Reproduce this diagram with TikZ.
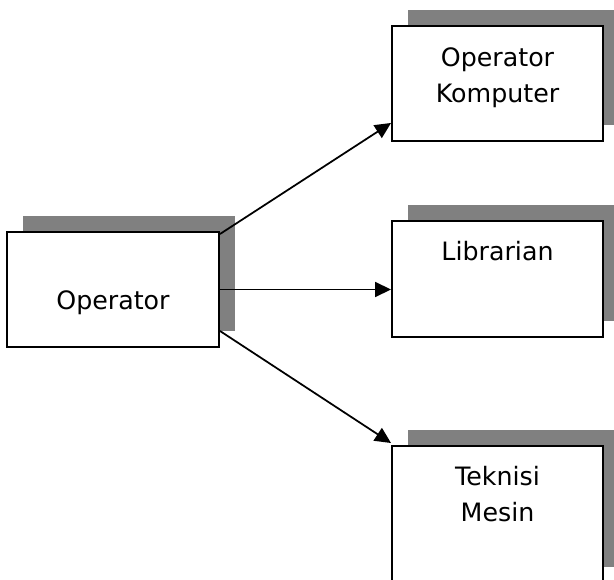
\documentclass[tikz,border=0pt]{standalone}
\usepackage{fontspec}
\setmainfont{DejaVu Sans}
\usepackage{tikz}
\usetikzlibrary{positioning,arrows.meta,shadows}
\definecolor{colorshade}{RGB}{128,128,128}
\definecolor{colortext} {RGB}{0,0,0}

\begin{document}
\begin{tikzpicture}[
    font={\fontsize{14.4}{20.5}\selectfont},
    jobbox/.style={draw, line width=1.1pt, fill=white,
        minimum width=4.22cm, minimum height=2.3cm, inner sep=0pt,
        general shadow={fill=colorshade, shadow xshift=.32cm, shadow yshift=.32cm}},
    jobname/.style={text=colortext, align=center, inner sep=0pt},
    link/.style={line width=1pt, -{Triangle[length=.32cm,width=.3cm]}},
]

    \useasboundingbox (0,0) rectangle (12.28,11.58);
    \clip (0,0) rectangle (12.28,11.58);

    % the boxes
    \node[jobbox,minimum width=4.24cm] (op) at (2.26,5.79) {};
    \node[jobbox] (komp) at (9.95,9.91) {};
    \node[jobbox,minimum height=2.32cm] (lib) at (9.95,6.0) {};
    \node[jobbox,minimum height=2.74cm] (tek) at (9.95,1.29) {};

    % their names
    \node[jobname,below=1.18cm of op.north] (opname) {Operator};
    \node[jobname,below=.44cm of komp.north] (kompname) {Operator\\Komputer};
    \node[jobname,below=.42cm of lib.north] (libname) {Librarian};
    \node[jobname,below=.42cm of tek.north] (tekname) {Teknisi\\Mesin};

    % arrows
    \draw[link] ([yshift=-.06cm]op.north east) -- ([yshift=.38cm]komp.south west);
    \draw[link] (op.east) -- (op.east -| lib.west);
    \draw[link] ([yshift=.34cm]op.south east) -- ([yshift=.04cm]tek.north west);

\end{tikzpicture}
\end{document}
